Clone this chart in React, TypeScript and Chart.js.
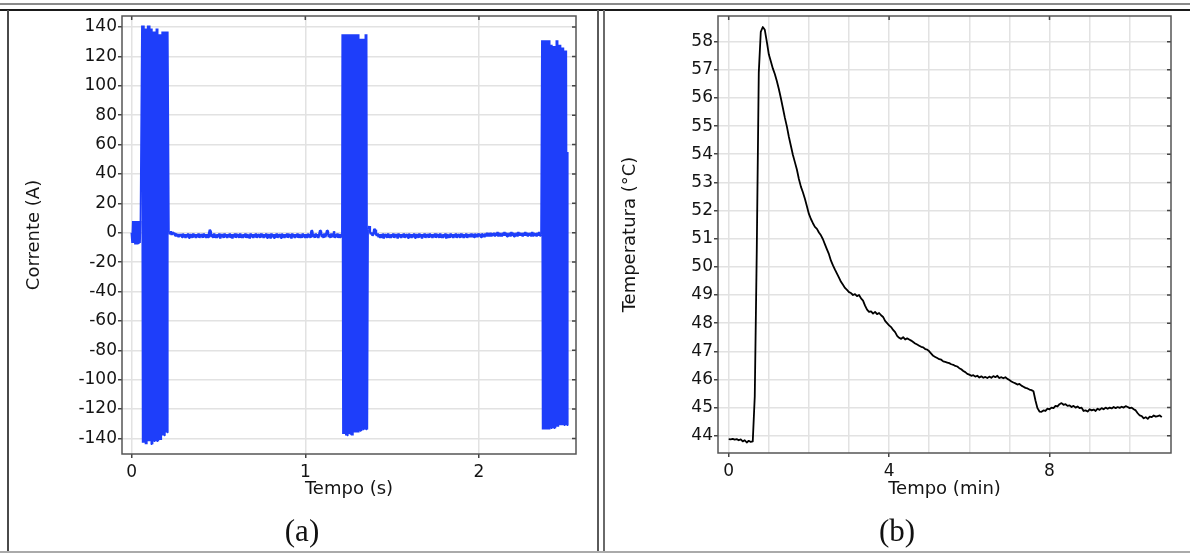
import React, { useEffect, useRef } from "react";
import { Chart, registerables } from "chart.js";

Chart.register(...registerables);

// ---------------- (a) Corrente (A) x Tempo (s) ----------------
const BURST_STEP = 1 / 240; // sampling inside the bursts (s)
const NOISE_STEP = 0.005; // sampling of the idle segments (s)

const initStart = 0;
const initValues = [0, -7, 8, -7, 8, -8, 8, -8, 8, -7, 8, -7, 8];

const burst1Start = 0.0583;
const burst1Values = [
  141, -143, 141, -143, 139, -144, 139, -144, 141, -142, 141, -142, 139, -144, 139, -144,
  137, -142, 137, -142, 139, -142, 139, -142, 135, -141, 135, -141, 137, -138, 137, -138,
  137, -136, 137, -136, 137,
];

const gap1Start = 0.215;
const gap1Values = [
  0.5, -1, 1, -1.5, 0.5, -1, 0, -2, -0.5, -2.5, -1, -3, -1, -2.5, -1, -3, -0.5, -3, -1, -3.5,
  -1, -3, -0.5, -3.5, -1, -3, -1, -3.5, -0.5, -3, -1, -3.5, -1, -3, -0.5, -3.5, -1, -3, -1, -3.5,
  -0.5, -3, -1, -3.5, -1, -3, -0.5, 2, 1, -3, -1, -3.5, -0.5, -3, -1, -3.5, -1, -3, -0.5, -4,
  -1, -3, -1, -3.5, -0.5, -3, -1, -3.5, -1, -3, -0.5, -3.5, -1, -4, -1, -3, -0.5, -3.5, -1, -3,
  -1, -3.5, -0.5, -3, -1, -3.5, -1, -3, -0.5, -3.5, -1, -3, -1, -4, -0.5, -3, -1, -3.5, -1, -3,
  -0.5, -3.5, -1, -3, -1, -3.5, -0.5, -3, -1, -3.5, -1, -3, -0.5, -3.5, -1, -3, -1, -4, -0.5, -3,
  -1, -3.5, -1, -3, -0.5, -3.5, -1, -3, -1, -3.5, -0.5, -3, -1, -3.5, -1, -3, -0.5, -3.5, -1, -3,
  -1, -4, -0.5, -3, -1, -3.5, -1, -3, -0.5, -3.5, -1, -3, -1, -3.5, -0.5, -3, -1, -3.5, -1, -3,
  -0.5, -3, -1, -3.5, 1.5, 1, -3, -1, -3.5, -0.5, -3, -1, -3.5, -1, 1.5, 1, -3, -1, -3.5, -0.5,
  -3, -1, 1.5, 1, -3, -1, -3.5, -0.5, -3, -1, 1, -3.5, -1, -3, -0.5, -3.5, -1, -3, -1, -2,
];

const burst2Start = 1.212;
const burst2Values = [
  135, -137, 135, -137, 135, -138, 135, -138, 135, -137, 135, -137, 135, -138, 135, -138,
  135, -136, 135, -136, 135, -136, 135, -136, 132, -135, 132, -135, 132, -134, 132, -134,
  135, -134, 135, -134,
];

const gap2Start = 1.362;
const gap2Values = [
  2, 4.5, 1, -1, 0, -2, -1, 2.5, 2, -1, -2, -0.5, -3, -1, -3.5, -1, -3, -0.5, -4, -1,
  -3, -1, -3.5, -0.5, -3, -1, -3.5, -1, -3, -0.5, -3.5, -1, -3, -1, -4, -0.5, -3, -1, -3.5, -1,
  -3, -0.5, -3.5, -1, -3, -1, -3.5, -0.5, -3, -1, -3.5, -1, -3, -0.5, -3.5, -1, -3, -1, -3.5, -0.5,
  -3, -1, -4, -1, -3, -0.5, -3.5, -1, -3, -1, -3.5, -0.5, -3, -1, -3.5, -1, -3, -0.5, -3.5, -1,
  -3, -1, -3.5, -0.5, -3, -1, -3.5, -1, -3, -0.5, -4, -1, -3, -1, -3.5, -0.5, -3, -1, -3.5, -1,
  -3, -0.5, -3.5, -1, -3, -1, -3.5, -0.5, -3, -1, -3.5, -1, -3, -0.5, -3.5, -1, -3, -1, -3, -0.5,
  -3, -1, -3, -0.5, -3, -1, -3, -0.5, -2.5, -1, -3, -0.5, -2.5, -1, -3, -0.5, -2.5, 0, -2.5, -0.5,
  -2.5, 0, -2.5, -0.5, -2, 0, -2.5, -0.5, -2, 0.5, -2.5, 0, -2, -0.5, -2.5, 0, -2, 0.5, -2, 0,
  -2.5, -0.5, -2, 0, -2.5, 0.5, -2, 0, -2.5, -0.5, -2, 0, -2.5, 0.5, -2, 0, -2, -0.5, -2.5, 0,
  -2, 0.5, -2, 0, -2.5, -0.5, -2, 0, -2.5, 0.5, -2, 0, -2, -0.5, -2.5, 0, -2, 0.5, -2, -1,
];

const burst3Start = 2.362;
const burst3Values = [
  131, -134, 131, -134, 131, -134, 131, -134, 131, -134, 131, -134, 128, -133, 128, -133,
  127, -133, 127, -133, 131, -132, 131, -132, 128, -131, 128, -131, 126, -131, 126, -131,
  124, -131, 124, -131, 55,
];

const currentXTicks = [0, 1, 2];
const currentYTicks = [-140, -120, -100, -80, -60, -40, -20, 0, 20, 40, 60, 80, 100, 120, 140];
const currentXRange = [-0.0559, 2.559];
const currentYRange = [-150.6, 147.5];

// ---------------- (b) Temperatura (°C) x Tempo (min) ----------------
const TEMP_STEP = 0.05; // min
const temperature = [
  43.88, 43.87, 43.89, 43.86, 43.88, 43.84, 43.87, 43.80, 43.84, 43.76,
  43.82, 43.78, 43.80, 45.40, 50.60, 56.90, 58.35, 58.52, 58.42, 58.00,
  57.55, 57.30, 57.05, 56.85, 56.60, 56.32, 56.00, 55.65, 55.30, 54.99,
  54.62, 54.30, 53.98, 53.72, 53.46, 53.12, 52.85, 52.65, 52.42, 52.15,
  51.88, 51.70, 51.55, 51.42, 51.35, 51.22, 51.12, 50.98, 50.80, 50.62,
  50.45, 50.22, 50.05, 49.90, 49.76, 49.62, 49.47, 49.36, 49.25, 49.18,
  49.10, 49.07, 49.00, 49.03, 48.96, 49.00, 48.88, 48.80, 48.62, 48.48,
  48.40, 48.42, 48.34, 48.40, 48.32, 48.36, 48.28, 48.22, 48.08, 48.00,
  47.92, 47.86, 47.76, 47.68, 47.55, 47.48, 47.44, 47.50, 47.42, 47.46,
  47.42, 47.38, 47.33, 47.28, 47.24, 47.20, 47.16, 47.14, 47.08, 47.06,
  47.00, 46.92, 46.84, 46.80, 46.76, 46.72, 46.70, 46.64, 46.62, 46.60,
  46.58, 46.54, 46.52, 46.48, 46.46, 46.40, 46.36, 46.30, 46.26, 46.20,
  46.17, 46.13, 46.15, 46.10, 46.13, 46.07, 46.11, 46.06, 46.09, 46.05,
  46.10, 46.06, 46.12, 46.08, 46.13, 46.05, 46.08, 46.04, 46.08, 46.02,
  45.98, 45.93, 45.89, 45.86, 45.82, 45.84, 45.78, 45.74, 45.70, 45.68,
  45.64, 45.62, 45.58, 45.25, 44.98, 44.86, 44.85, 44.90, 44.88, 44.96,
  44.94, 45.00, 44.98, 45.06, 45.04, 45.12, 45.16, 45.10, 45.12, 45.06,
  45.08, 45.02, 45.06, 45.00, 45.04, 44.98, 45.00, 44.88, 44.90, 44.86,
  44.94, 44.90, 44.93, 44.88, 44.96, 44.92, 44.98, 44.94, 45.00, 44.96,
  45.00, 44.97, 45.02, 44.98, 45.02, 44.99, 45.03, 45.00, 45.05, 45.02,
  44.98, 45.00, 44.94, 44.90, 44.80, 44.72, 44.70, 44.62, 44.66, 44.60,
  44.68, 44.66, 44.72, 44.68, 44.70, 44.72, 44.66,
];

const tempXGrid = [0, 1, 2, 3, 4, 5, 6, 7, 8, 9, 10];
const tempXLabels = [0, 4, 8];
const tempYTicks = [44, 45, 46, 47, 48, 49, 50, 51, 52, 53, 54, 55, 56, 57, 58];
const tempXRange = [-0.267, 11.03];
const tempYRange = [43.387, 58.911];

// ---------------- styling ----------------
const FONT = "DejaVu Sans";
const TEXT = "#141414";
const GRID = "#e2e2e2";
const FRAME = "#555555";
const TICK = "#444444";

function seg(start: number, step: number, values: number[]) {
  return values.map((y, i) => ({ x: start + i * step, y }));
}

const framePlugin = {
  id: "frame",
  afterDatasetsDraw(chart: any, _args: any, opts: any) {
    const { ctx, chartArea } = chart;
    const { left, right, top, bottom } = chartArea;
    const xs = chart.scales.x;
    const ys = chart.scales.y;
    ctx.save();
    ctx.lineWidth = 1.5;
    ctx.strokeStyle = TICK;
    ctx.beginPath();
    for (const v of opts.topTicks) {
      const px = xs.getPixelForValue(v);
      ctx.moveTo(px, top);
      ctx.lineTo(px, top + 4);
    }
    for (const v of opts.rightTicks) {
      const py = ys.getPixelForValue(v);
      ctx.moveTo(right, py);
      ctx.lineTo(right - 4, py);
    }
    ctx.stroke();
    ctx.lineWidth = 1.5;
    ctx.strokeStyle = FRAME;
    ctx.strokeRect(left, top, right - left, bottom - top);
    ctx.restore();
  },
};

function fixBox(size: number, horizontal: boolean) {
  return (scale: any) => {
    if (horizontal) scale.height = size;
    else scale.width = size;
    scale.paddingLeft = 0;
    scale.paddingRight = 0;
    scale.paddingTop = 0;
    scale.paddingBottom = 0;
  };
}

function baseScale(opts: any) {
  return {
    type: "linear",
    bounds: "data",
    border: { display: false },
    grid: {
      color: GRID,
      lineWidth: 1.5,
      drawTicks: true,
      tickLength: 4,
      tickWidth: 1.5,
      tickColor: TICK,
    },
    ticks: {
      autoSkip: false,
      color: TEXT,
      font: { family: FONT, size: 17 },
      maxRotation: 0,
      minRotation: 0,
    },
    title: {
      display: true,
      color: TEXT,
      font: { family: FONT, size: 18 },
    },
    ...opts,
  };
}

function makeLeftConfig(): any {
  const points = [
    ...seg(initStart, BURST_STEP, initValues),
    ...seg(burst1Start, BURST_STEP, burst1Values),
    ...seg(gap1Start, NOISE_STEP, gap1Values),
    ...seg(burst2Start, BURST_STEP, burst2Values),
    ...seg(gap2Start, NOISE_STEP, gap2Values),
    ...seg(burst3Start, BURST_STEP, burst3Values),
  ];
  const x = baseScale({
    min: currentXRange[0],
    max: currentXRange[1],
    afterBuildTicks: (s: any) => {
      s.ticks = currentXTicks.map((v) => ({ value: v }));
    },
    afterFit: fixBox(97, true),
  });
  x.ticks = { ...x.ticks, padding: 4, callback: (v: any) => String(v) };
  x.title = { ...x.title, text: "Tempo (s)", padding: { top: 0, bottom: 51 } };
  const y = baseScale({
    min: currentYRange[0],
    max: currentYRange[1],
    afterBuildTicks: (s: any) => {
      s.ticks = currentYTicks.map((v) => ({ value: v }));
    },
    afterFit: fixBox(113, false),
  });
  y.ticks = { ...y.ticks, padding: 1, callback: (v: any) => String(v) };
  y.title = { ...y.title, text: "Corrente (A)", padding: { top: 14.5, bottom: 0 } };
  return {
    type: "line",
    data: {
      datasets: [
        {
          data: points,
          borderColor: "rgb(30, 62, 250)",
          borderWidth: 1.5,
          borderJoinStyle: "bevel",
          pointRadius: 0,
          tension: 0,
          fill: false,
          segment: {
            borderWidth: (c: any) =>
              Math.abs(c.p0.parsed.y) < 10 && Math.abs(c.p1.parsed.y) < 10 ? 2.4 : 1.5,
          },
        },
      ],
    },
    options: {
      responsive: false,
      animation: false,
      devicePixelRatio: 1,
      events: [],
      layout: { padding: { left: 0, right: 21, top: 5, bottom: 0 } },
      scales: { x, y },
      plugins: {
        legend: { display: false },
        tooltip: { enabled: false },
        frame: { topTicks: currentXTicks, rightTicks: currentYTicks },
      },
    },
    plugins: [framePlugin],
  };
}

function makeRightConfig(): any {
  const points = seg(0, TEMP_STEP, temperature);
  const x = baseScale({
    min: tempXRange[0],
    max: tempXRange[1],
    afterBuildTicks: (s: any) => {
      s.ticks = tempXGrid.map((v) => ({ value: v }));
    },
    afterFit: fixBox(98, true),
  });
  x.grid = {
    ...x.grid,
    tickColor: (c: any) => (c.tick && tempXLabels.includes(c.tick.value) ? TICK : "rgba(0,0,0,0)"),
  };
  x.ticks = {
    ...x.ticks,
    padding: 4,
    callback: (v: any) => (tempXLabels.includes(v) ? String(v) : ""),
  };
  x.title = { ...x.title, text: "Tempo (min)", padding: { top: 0, bottom: 51 } };
  const y = baseScale({
    min: tempYRange[0],
    max: tempYRange[1],
    afterBuildTicks: (s: any) => {
      s.ticks = tempYTicks.map((v) => ({ value: v }));
    },
    afterFit: fixBox(113, false),
  });
  y.ticks = { ...y.ticks, padding: 1, callback: (v: any) => String(v) };
  y.title = { ...y.title, text: "Temperatura (°C)", padding: { top: 14.5, bottom: 0 } };
  return {
    type: "line",
    data: {
      datasets: [
        {
          data: points,
          borderColor: "#000000",
          borderWidth: 1.8,
          borderJoinStyle: "round",
          pointRadius: 0,
          tension: 0,
          fill: false,
        },
      ],
    },
    options: {
      responsive: false,
      animation: false,
      devicePixelRatio: 1,
      events: [],
      layout: { padding: { left: 0, right: 19, top: 5, bottom: 0 } },
      scales: { x, y },
      plugins: {
        legend: { display: false },
        tooltip: { enabled: false },
        frame: { topTicks: tempXLabels, rightTicks: tempYTicks },
      },
    },
    plugins: [framePlugin],
  };
}

function Rule(props: { left: number; top: number; width: number; height: number; color: string }) {
  return (
    <div
      style={{
        position: "absolute",
        left: props.left,
        top: props.top,
        width: props.width,
        height: props.height,
        background: props.color,
      }}
    />
  );
}

const captionStyle: React.CSSProperties = {
  position: "absolute",
  top: 515,
  width: 120,
  height: 31,
  textAlign: "center",
  fontFamily: "'Liberation Serif', 'DejaVu Serif', serif",
  fontSize: 31,
  lineHeight: "31px",
  color: "#111",
};

export default function App() {
  const leftRef = useRef<HTMLCanvasElement>(null);
  const rightRef = useRef<HTMLCanvasElement>(null);

  useEffect(() => {
    const c1 = new Chart(leftRef.current as HTMLCanvasElement, makeLeftConfig());
    const c2 = new Chart(rightRef.current as HTMLCanvasElement, makeRightConfig());
    return () => {
      c1.destroy();
      c2.destroy();
    };
  }, []);

  return (
    <div
      style={{
        position: "absolute",
        left: 0,
        top: 0,
        width: 1190,
        height: 553,
        background: "#ffffff",
        overflow: "hidden",
      }}
    >
      <Rule left={0} top={3} width={1190} height={2} color="#8a8a8a" />
      <Rule left={0} top={9} width={1190} height={2} color="#1a1a1a" />
      <Rule left={7} top={10} width={2} height={543} color="#4a4a4a" />
      <Rule left={597} top={10} width={2} height={543} color="#5a5a5a" />
      <Rule left={603} top={10} width={2} height={543} color="#6a6a6a" />
      <Rule left={0} top={551} width={1190} height={2} color="#aaaaaa" />

      <canvas
        ref={leftRef}
        width={588}
        height={540}
        style={{ position: "absolute", left: 9, top: 11, width: 588, height: 540 }}
      />
      <canvas
        ref={rightRef}
        width={585}
        height={540}
        style={{ position: "absolute", left: 605, top: 11, width: 585, height: 540 }}
      />

      <div style={{ ...captionStyle, left: 302 - 60 }}>(a)</div>
      <div style={{ ...captionStyle, left: 897 - 60 }}>(b)</div>
    </div>
  );
}
